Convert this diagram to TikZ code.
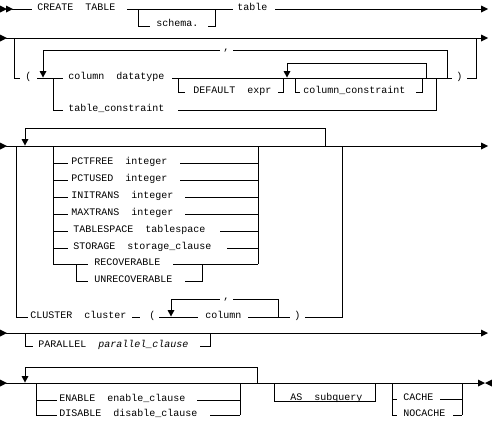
\documentclass[tikz,border=0pt]{standalone}
\usepackage{fontspec}
\setmonofont{Liberation Mono}
\begin{document}
\begin{tikzpicture}[x=1pt,y=-1pt,line width=0.9pt,
  txt/.style={font=\fontsize{10}{12}\selectfont\ttfamily,inner sep=0pt,anchor=base west},
  rtri/.pic={\fill (0,-3.5)--(7,0)--(0,3.5)--cycle;},
  ltri/.pic={\fill (0,-3.5)--(-7,0)--(0,3.5)--cycle;},
  dtri/.pic={\fill (-3.5,-7)--(3.5,-7)--(0,-0.5)--cycle;}]
\useasboundingbox[fill=white] (0,0) rectangle (492,423);

% ---------- Row 1 ----------
\pic at (0,9) {rtri}; \pic at (6,9) {rtri};
\draw (12,9) -- (32,9);
\node[txt] (create) at (37,10) {CREATE~~TABLE};
\draw (127,9) -- (233,9);
\draw (138,9) -- (138,26) -- (150,26);
\node[txt] (schema) at (156,27) {schema.};
\draw (208,26) -- (215,26) -- (215,9);
\node[txt] (table) at (237,10) {table};
\draw (275,9) -- (481,9);
\pic at (481,9) {rtri};

% ---------- Row 2 ----------
\pic at (0,38) {rtri};
\draw (6,38) -- (481,38);
\pic at (481,38) {rtri};
\draw (14,38) -- (14,78) -- (20,78);
\node[txt] (lpar) at (25,79) {(};
\draw (37,78) -- (63,78);
\draw (43,72) -- (43,50) -- (220,50);
\node[txt] (comma1) at (223,50) {,};
\draw (233,50) -- (447,50) -- (447,78);
\pic at (43,78) {dtri};
\node[txt] (coldt) at (68,79) {column~~datatype};
\draw (172,78) -- (452,78);
\node[txt] (rpar) at (456,79) {)};
\draw (467,78) -- (476,78) -- (476,38);
% DEFAULT expr
\draw (178,78) -- (178,92) -- (185,92);
\node[txt] (default) at (193,93) {DEFAULT~~expr};
\draw (278,92) -- (283,92) -- (283,78);
% column_constraint loop
\draw (287,72) -- (287,63) -- (426,63) -- (426,78);
\pic at (287,78) {dtri};
\draw (295,78) -- (295,92) -- (300,92);
\node[txt] (colcons) at (303,93) {column\_constraint};
\draw (416,92) -- (422,92) -- (422,78);
% table_constraint
\draw (53,78) -- (53,110) -- (63,110);
\node[txt] (tabcons) at (68,111) {table\_constraint};
\draw (178,110) -- (436,110) -- (436,78);

% ---------- Row 3 ----------
\pic at (0,146) {rtri};
\draw (6,146) -- (481,146);
\pic at (481,146) {rtri};
\draw (25,140) -- (25,128) -- (325,128) -- (325,146);
\pic at (25,146) {dtri};
\draw (53,146) -- (53,264);
\draw (258,146) -- (258,264);
\draw (53,163) -- (68,163); \node[txt] (pctfree) at (71,164) {PCTFREE~~integer};  \draw (180,163) -- (258,163);
\draw (53,180) -- (68,180); \node[txt] (pctused) at (71,181) {PCTUSED~~integer};  \draw (180,180) -- (258,180);
\draw (53,197) -- (68,197); \node[txt] (initrans) at (71,198) {INITRANS~~integer}; \draw (185,197) -- (258,197);
\draw (53,214) -- (68,214); \node[txt] (maxtrans) at (71,215) {MAXTRANS~~integer}; \draw (185,214) -- (258,214);
\draw (53,231) -- (68,231); \node[txt] (tblspc) at (73,232) {TABLESPACE~~tablespace}; \draw (220,231) -- (258,231);
\draw (53,248) -- (68,248); \node[txt] (storage) at (73,249) {STORAGE~~storage\_clause}; \draw (227,248) -- (258,248);
\draw (53,264) -- (88,264); \node[txt] (recov) at (94,265) {RECOVERABLE}; \draw (173,264) -- (258,264);
\draw (76,264) -- (76,281) -- (88,281); \node[txt] (unrecov) at (94,282) {UNRECOVERABLE};
\draw (185,281) -- (202,281) -- (202,264);
% CLUSTER
\draw (16,146) -- (16,317) -- (28,317);
\node[txt] (cluster) at (30,318) {CLUSTER~~cluster};
\draw (132,317) -- (140,317);
\node[txt] (lpar2) at (149,318) {(};
\draw (159,317) -- (198,317);
\pic at (171,317) {dtri};
\draw (171,311) -- (171,299) -- (220,299);
\node[txt] (comma2) at (223,299) {,};
\draw (233,299) -- (278,299) -- (278,317);
\node[txt] (column) at (205,318) {column};
\draw (248,317) -- (290,317);
\node[txt] (rpar2) at (294,318) {)};
\draw (305,317) -- (342,317) -- (342,146);

% ---------- Row 4 ----------
\pic at (0,333) {rtri};
\draw (6,333) -- (481,333);
\pic at (481,333) {rtri};
\draw (25,333) -- (25,346) -- (33,346);
\node[txt] (parallel) at (38,347) {PARALLEL~~\textit{parallel\_clause}};
\draw (200,346) -- (210,346) -- (210,333);

% ---------- Row 5 ----------
\pic at (0,383) {rtri};
\draw (6,383) -- (478,383);
\pic at (478,383) {rtri};
\pic at (492,383) {ltri};
\draw (25,377) -- (25,367) -- (257,367) -- (257,383);
\pic at (25,383) {dtri};
\draw (36,383) -- (36,415);
\draw (240,383) -- (240,415);
\draw (36,400) -- (57,400); \node[txt] (enable) at (59,401) {ENABLE~~enable\_clause}; \draw (197,400) -- (240,400);
\draw (36,415) -- (57,415); \node[txt] (disable) at (59,416) {DISABLE~~disable\_clause}; \draw (210,415) -- (240,415);
\draw (274,383) -- (274,401) -- (375,401) -- (375,383);
\node[txt] (assub) at (290,400) {AS~~subquery};
\draw (392,383) -- (392,415);
\draw (462,383) -- (462,415);
\draw (392,399) -- (397,399); \node[txt] (cache) at (403,400) {CACHE}; \draw (440,399) -- (462,399);
\draw (392,415) -- (397,415); \node[txt] (nocache) at (403,416) {NOCACHE}; \draw (453,415) -- (462,415);
\end{tikzpicture}
\end{document}
